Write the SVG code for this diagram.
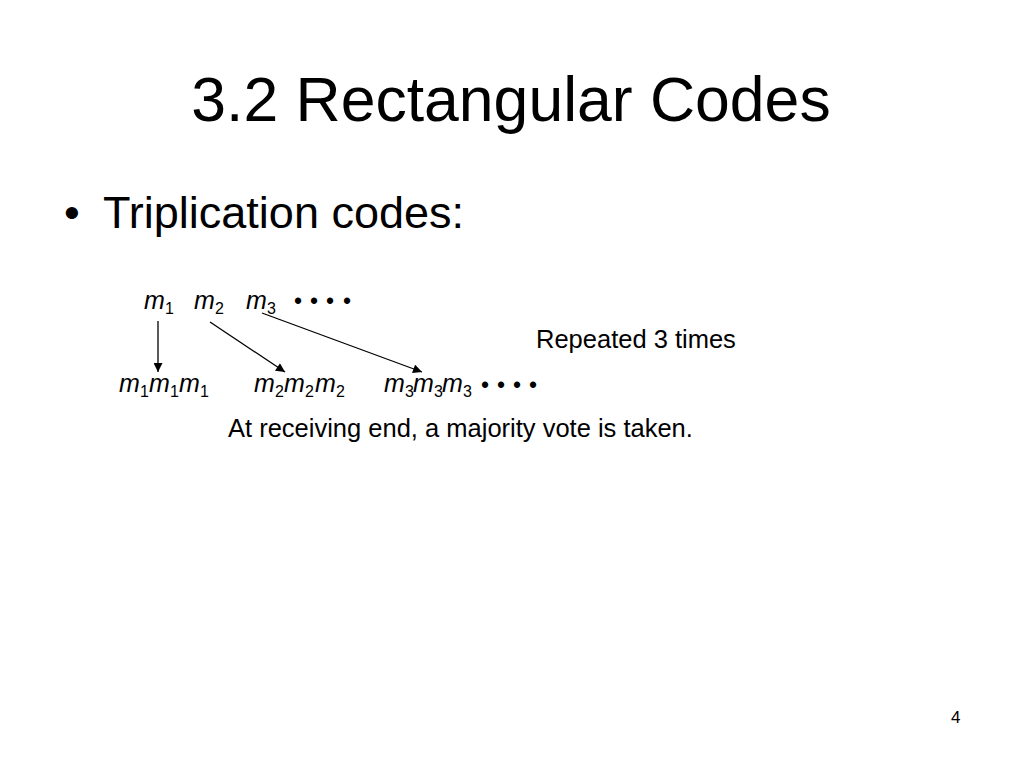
<svg xmlns="http://www.w3.org/2000/svg" width="1024" height="768" viewBox="0 0 1024 768">
<style>
text{font-family:"Liberation Sans",Arial,sans-serif;fill:#000}
.m{font-style:italic;font-size:25px}
.s{font-size:16px}
.d{font-size:23px}
.lbl{font-size:25.5px}
.edge{stroke:#000;stroke-width:1.3;fill:none;marker-end:url(#ah)}
</style>
<defs>
<marker id="ah" viewBox="0 0 10 10" refX="10" refY="5" markerWidth="10" markerHeight="9" markerUnits="userSpaceOnUse" orient="auto">
<path d="M0,0 L10,5 L0,10 Z" fill="#000"/>
</marker>
</defs>
<rect width="1024" height="768" fill="#fff"/>
<text id="title" x="511" y="121" text-anchor="middle" font-size="62.5">3.2 Rectangular Codes</text>
<g id="bullet">
<text x="64" y="228" font-size="45">•</text>
<text x="103" y="228" font-size="45">Triplication codes:</text>
</g>
<g id="source">
<text class="m" x="144" y="309">m</text><text class="s" x="165" y="314">1</text>
<text class="m" x="194" y="309">m</text><text class="s" x="215" y="314">2</text>
<text class="m" x="246" y="309">m</text><text class="s" x="267" y="314">3</text>
<text class="d" x="294 310 326 343" y="309">••••</text>
</g>
<g id="coded">
<text class="m" x="119" y="392">m</text><text class="s" x="140" y="397">1</text>
<text class="m" x="149" y="392">m</text><text class="s" x="170" y="397">1</text>
<text class="m" x="179" y="392">m</text><text class="s" x="200" y="397">1</text>
<text class="m" x="254" y="392">m</text><text class="s" x="275" y="397">2</text>
<text class="m" x="284" y="392">m</text><text class="s" x="305" y="397">2</text>
<text class="m" x="315" y="392">m</text><text class="s" x="336" y="397">2</text>
<text class="m" x="384" y="392">m</text><text class="s" x="405" y="397">3</text>
<text class="m" x="413" y="392">m</text><text class="s" x="434" y="397">3</text>
<text class="m" x="442" y="392">m</text><text class="s" x="463" y="397">3</text>
<text class="d" x="481 497 513 529" y="393">••••</text>
</g>
<g id="connectors">
<line class="edge" x1="158" y1="321" x2="158" y2="372"/>
<line class="edge" x1="210" y1="322" x2="285" y2="372"/>
<line class="edge" x1="262" y1="313" x2="422" y2="372"/>
</g>
<text id="repeated" class="lbl" x="536" y="348">Repeated 3 times</text>
<text id="vote" class="lbl" x="228" y="437">At receiving end, a majority vote is taken.</text>
<text id="page" x="951" y="723" font-size="17">4</text>
</svg>
